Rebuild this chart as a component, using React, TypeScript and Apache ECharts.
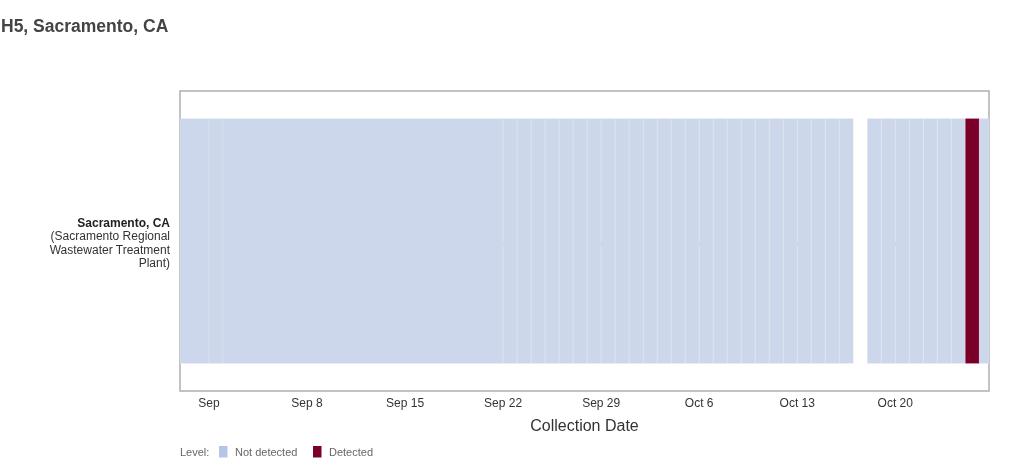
import React, { useEffect, useRef } from "react";
import * as echarts from "echarts";

// ---- data ----
const titleText = "H5, Sacramento, CA";
const siteName = "Sacramento, CA";
const siteDetail = ["(Sacramento Regional", "Wastewater Treatment", "Plant)"];
const levelNames = ["Not detected", "Detected"];
const sampleDates = [
  "2024-08-28", "2024-09-01", "2024-09-02", "2024-09-22", "2024-09-23", "2024-09-24",
  "2024-09-25", "2024-09-26", "2024-09-27", "2024-09-28", "2024-09-29", "2024-09-30",
  "2024-10-01", "2024-10-02", "2024-10-03", "2024-10-04", "2024-10-05", "2024-10-06",
  "2024-10-07", "2024-10-08", "2024-10-09", "2024-10-10", "2024-10-11", "2024-10-12",
  "2024-10-13", "2024-10-14", "2024-10-15", "2024-10-16", "2024-10-17", "2024-10-18",
  "2024-10-19", "2024-10-20", "2024-10-21", "2024-10-22", "2024-10-23", "2024-10-24",
  "2024-10-25", "2024-10-26",
];
// 0 = Not detected, 1 = Detected, null = no result
const sampleLevels: (number | null)[] = [
  0, 0, 0, 0, 0, 0,
  0, 0, 0, 0, 0, 0,
  0, 0, 0, 0, 0, 0,
  0, 0, 0, 0, 0, 0,
  0, 0, 0, 0, null, 0,
  0, 0, 0, 0, 0, 0,
  1, 0,
];
const tickDates = ["2024-09-01", "2024-09-08", "2024-09-15", "2024-09-22", "2024-09-29", "2024-10-06", "2024-10-13", "2024-10-20"];
const tickLabels = ["Sep", "Sep 8", "Sep 15", "Sep 22", "Sep 29", "Oct 6", "Oct 13", "Oct 20"];
const axisStart = "2024-08-29T22:20";
const axisEnd = "2024-10-26T16:35";

const cellColors = ["#cdd7eb", "#7a0029"];
const swatchColors = ["#b3c6e7", "#7a0029"];
const FONT = "Liberation Sans, Arial, sans-serif";
const DAY = 86400000;

const t = (s: string) => new Date(s.length === 10 ? s + "T00:00" : s).getTime();

export default function App() {
  const ref = useRef<HTMLDivElement>(null);
  useEffect(() => {
    if (!ref.current) return;
    const chart = echarts.init(ref.current, undefined, { renderer: "svg" });
    const times = sampleDates.map(t);
    const cells: any[] = [];
    times.forEach((s, i) => {
      const lv = sampleLevels[i];
      if (lv === null) return;
      const e = i < times.length - 1 ? times[i + 1] : s + DAY;
      cells.push([s, e, lv]);
    });
    const tickTimes = tickDates.map(t);
    chart.setOption({
      animation: false,
      textStyle: { fontFamily: FONT },
      title: {
        text: titleText,
        left: 1,
        top: 17,
        padding: 0,
        textStyle: { fontSize: 17.5, fontWeight: "bold", color: "#444", fontFamily: FONT },
      },
      grid: {
        left: 180,
        right: 21,
        top: 91,
        bottom: 75,
        show: true,
        borderColor: "#b0b0b0",
        borderWidth: 1.5,
        backgroundColor: "#fff",
      },
      xAxis: {
        type: "value",
        min: t(axisStart),
        max: t(axisEnd),
        name: "Collection Date",
        nameLocation: "middle",
        nameGap: 26,
        nameTextStyle: { fontSize: 16, color: "#333", fontFamily: FONT },
        axisLine: { show: false },
        splitLine: { show: false },
        axisTick: { show: true, length: 5, lineStyle: { color: "#aaa" }, customValues: tickTimes },
        axisLabel: {
          customValues: tickTimes,
          fontSize: 12,
          color: "#333",
          margin: 6,
          fontFamily: FONT,
          formatter: (v: number) => {
            const i = tickTimes.indexOf(v);
            return i >= 0 ? tickLabels[i] : "";
          },
        },
      },
      yAxis: {
        type: "value",
        min: -0.612,
        max: 0.612,
        axisLine: { show: false },
        axisTick: { show: false },
        splitLine: { show: false },
        axisLabel: {
          customValues: [0],
          margin: 10,
          align: "right",
          padding: [5, 0, 0, 0],
          formatter: () => "{b|" + siteName + "}\n" + siteDetail.map((s) => "{n|" + s + "}").join("\n"),
          rich: {
            b: { fontSize: 12, fontWeight: "bold", color: "#222", lineHeight: 12.5, align: "right", fontFamily: FONT },
            n: { fontSize: 12, color: "#333", lineHeight: 13.7, align: "right", fontFamily: FONT },
          },
        },
      },
      series: [
        {
          type: "custom",
          data: cells,
          encode: { x: [0, 1] },
          renderItem: (params: any, api: any) => {
            const p0 = api.coord([api.value(0), 0.5]);
            const p1 = api.coord([api.value(1), -0.5]);
            const cs = params.coordSys;
            const shape = echarts.graphic.clipRectByRect(
              { x: p0[0], y: p0[1], width: p1[0] - p0[0], height: p1[1] - p0[1] },
              { x: cs.x, y: cs.y, width: cs.width, height: cs.height }
            );
            if (!shape) return null;
            return {
              type: "rect",
              shape,
              style: { fill: cellColors[api.value(2)], stroke: "rgba(255,255,255,0.16)", lineWidth: 1 },
            };
          },
        },
      ],
      graphic: [
        { type: "text", left: 180, top: 446, style: { text: "Level:", fontSize: 11, fill: "#666", fontFamily: FONT } },
        { type: "rect", left: 219, top: 446, shape: { width: 8.5, height: 11.5 }, style: { fill: swatchColors[0] } },
        { type: "text", left: 235, top: 446, style: { text: levelNames[0], fontSize: 11, fill: "#666", fontFamily: FONT } },
        { type: "rect", left: 313, top: 446, shape: { width: 8.5, height: 11.5 }, style: { fill: swatchColors[1] } },
        { type: "text", left: 329, top: 446, style: { text: levelNames[1], fontSize: 11, fill: "#666", fontFamily: FONT } },
      ],
    });
    return () => chart.dispose();
  }, []);
  return <div ref={ref} style={{ position: "fixed", left: 0, top: 0, width: 1010, height: 466 }} />;
}
